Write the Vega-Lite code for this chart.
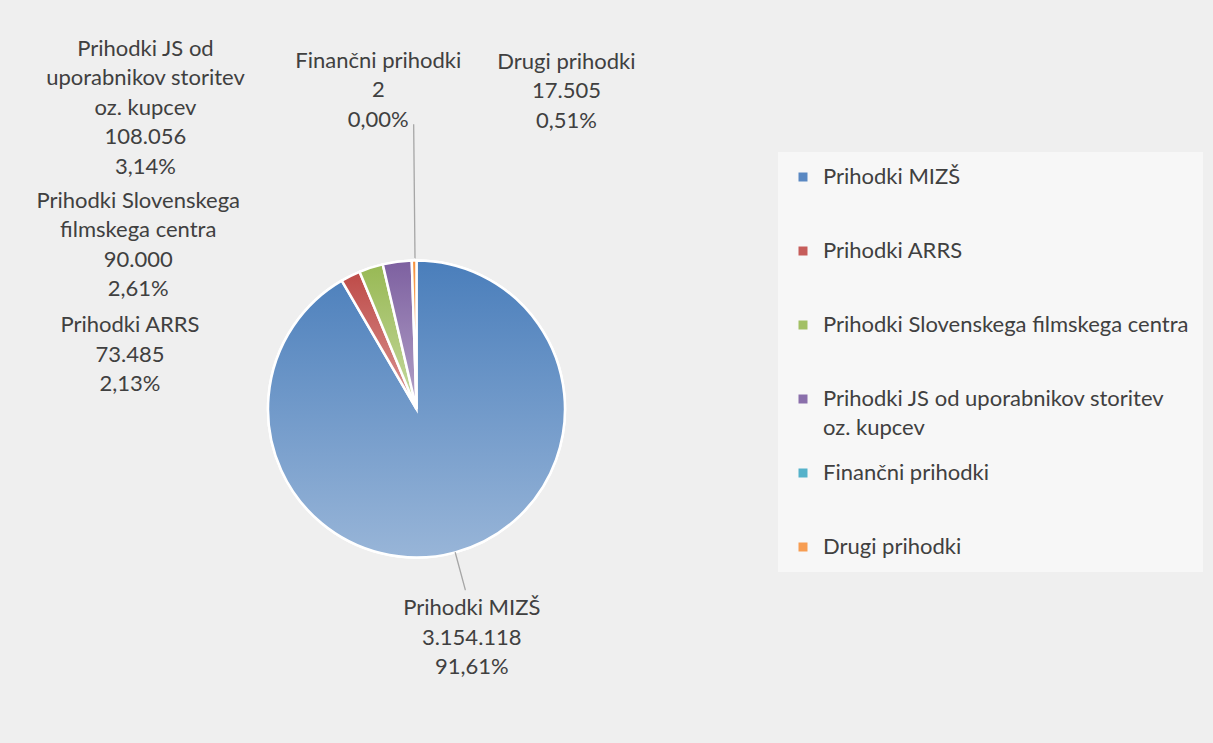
{
  "$schema": "https://vega.github.io/schema/vega-lite/v6.json",
  "width": 821,
  "height": 668,
  "autosize": {"type": "none"},
  "padding": {"left": 6, "top": 75, "right": 386, "bottom": 0},
  "background": "#efefef",
  "config": {
    "view": {"stroke": null},
    "style": {"guide-label": {"lineHeight": 29}},
    "locale": {"number": {"decimal": ",", "thousands": ".", "grouping": [3], "currency": ["", " €"]}}
  },
  "data": {
    "values": [
      {"i": 1, "cat": "Prihodki MIZŠ", "wrap": "Prihodki MIZŠ", "value": 3154118, "share": 91.61},
      {"i": 2, "cat": "Prihodki ARRS", "wrap": "Prihodki ARRS", "value": 73485, "share": 2.13},
      {"i": 3, "cat": "Prihodki Slovenskega filmskega centra", "wrap": "Prihodki Slovenskega|filmskega centra", "value": 90000, "share": 2.61},
      {"i": 4, "cat": "Prihodki JS od uporabnikov storitev oz. kupcev", "wrap": "Prihodki JS od|uporabnikov storitev|oz. kupcev", "value": 108056, "share": 3.14},
      {"i": 5, "cat": "Finančni prihodki", "wrap": "Finančni prihodki", "value": 2, "share": 0.0},
      {"i": 6, "cat": "Drugi prihodki", "wrap": "Drugi prihodki", "value": 17505, "share": 0.51}
    ]
  },
  "transform": [
    {"calculate": "split(datum.wrap + '|' + format(datum.value, ',.0f') + '|' + format(datum.share, '.2f') + '%', '|')", "as": "lbl"}
  ],
  "encoding": {
    "theta": {"field": "value", "type": "quantitative", "stack": true},
    "order": {"field": "i", "type": "quantitative"}
  },
  "layer": [
    {
      "mark": {"type": "arc", "outerRadius": 148.5, "stroke": "#ffffff", "strokeWidth": 2.5},
      "encoding": {
        "color": {
          "field": "cat",
          "type": "nominal",
          "scale": {
            "domain": ["Prihodki MIZŠ", "Prihodki ARRS", "Prihodki Slovenskega filmskega centra", "Prihodki JS od uporabnikov storitev oz. kupcev", "Finančni prihodki", "Drugi prihodki"],
            "range": ["#5a88c2", "#c65d5a", "#a2c064", "#8a6fab", "#55b2ca", "#f79d52"]
          },
          "legend": {
            "title": null,
            "orient": "none",
            "legendX": 772,
            "legendY": 77,
            "symbolType": "square",
            "symbolSize": 81,
            "symbolStrokeWidth": 0,
            "labelFont": "Lato",
            "labelFontSize": 22,
            "labelColor": "#404040",
            "labelLimit": 600,
            "labelOffset": 9,
            "rowPadding": 23,
            "gridAlign": "all",
            "padding": 14,
            "fillColor": "#f7f7f7",
            "labelExpr": "datum.label == 'Prihodki JS od uporabnikov storitev oz. kupcev' ? ['Prihodki JS od uporabnikov storitev', 'oz. kupcev'] : datum.label"
          }
        }
      }
    },
    {
      "mark": {"type": "arc", "outerRadius": 148.5, "stroke": "#ffffff", "strokeWidth": 2.5,
        "fill": {"gradient": "linear", "x1": 0, "y1": 0, "x2": 0, "y2": 1, "stops": [{"offset": 0, "color": "#4a7ebb"}, {"offset": 1, "color": "#98b5d8"}]}},
      "encoding": {
        "fillOpacity": {"condition": {"test": "datum.cat === 'Prihodki MIZŠ'", "value": 1}, "value": 0},
        "strokeOpacity": {"condition": {"test": "datum.cat === 'Prihodki MIZŠ'", "value": 1}, "value": 0}
      }
    },
    {
      "mark": {"type": "arc", "outerRadius": 148.5, "stroke": "#ffffff", "strokeWidth": 2.5,
        "fill": {"gradient": "linear", "x1": 0, "y1": 0, "x2": 0, "y2": 1, "stops": [{"offset": 0, "color": "#be4b48"}, {"offset": 1, "color": "#da9694"}]}},
      "encoding": {
        "fillOpacity": {"condition": {"test": "datum.cat === 'Prihodki ARRS'", "value": 1}, "value": 0},
        "strokeOpacity": {"condition": {"test": "datum.cat === 'Prihodki ARRS'", "value": 1}, "value": 0}
      }
    },
    {
      "mark": {"type": "arc", "outerRadius": 148.5, "stroke": "#ffffff", "strokeWidth": 2.5,
        "fill": {"gradient": "linear", "x1": 0, "y1": 0, "x2": 0, "y2": 1, "stops": [{"offset": 0, "color": "#98b954"}, {"offset": 1, "color": "#c6d9a0"}]}},
      "encoding": {
        "fillOpacity": {"condition": {"test": "datum.cat === 'Prihodki Slovenskega filmskega centra'", "value": 1}, "value": 0},
        "strokeOpacity": {"condition": {"test": "datum.cat === 'Prihodki Slovenskega filmskega centra'", "value": 1}, "value": 0}
      }
    },
    {
      "mark": {"type": "arc", "outerRadius": 148.5, "stroke": "#ffffff", "strokeWidth": 2.5,
        "fill": {"gradient": "linear", "x1": 0, "y1": 0, "x2": 0, "y2": 1, "stops": [{"offset": 0, "color": "#7d60a0"}, {"offset": 1, "color": "#b3a2c8"}]}},
      "encoding": {
        "fillOpacity": {"condition": {"test": "datum.cat === 'Prihodki JS od uporabnikov storitev oz. kupcev'", "value": 1}, "value": 0},
        "strokeOpacity": {"condition": {"test": "datum.cat === 'Prihodki JS od uporabnikov storitev oz. kupcev'", "value": 1}, "value": 0}
      }
    },
    {
      "mark": {"type": "arc", "outerRadius": 148.5, "stroke": "#ffffff", "strokeWidth": 2.5,
        "fill": {"gradient": "linear", "x1": 0, "y1": 0, "x2": 0, "y2": 1, "stops": [{"offset": 0, "color": "#f69240"}, {"offset": 1, "color": "#fabf8f"}]}},
      "encoding": {
        "fillOpacity": {"condition": {"test": "datum.cat === 'Drugi prihodki'", "value": 1}, "value": 0},
        "strokeOpacity": {"condition": {"test": "datum.cat === 'Drugi prihodki'", "value": 1}, "value": 0}
      }
    },
    {
      "mark": {"type": "arc", "outerRadius": 187, "innerRadius": 149, "thetaOffset": 2.877845, "fillOpacity": 0, "stroke": "#a6a6a6", "strokeWidth": 1.3},
      "encoding": {
        "theta": {"field": "share", "type": "quantitative", "stack": true},
        "strokeOpacity": {"condition": {"test": "datum.cat === 'Prihodki MIZŠ'", "value": 1}, "value": 0}
      }
    },
    {
      "mark": {"type": "arc", "outerRadius": 284, "innerRadius": 151, "thetaOffset": 0.022, "fillOpacity": 0, "stroke": "#a6a6a6", "strokeWidth": 1.3},
      "encoding": {"strokeOpacity": {"condition": {"test": "datum.cat === 'Finančni prihodki'", "value": 1}, "value": 0}}
    },
    {
      "mark": {"type": "text", "radius": 235, "dx": -6, "dy": -27.5, "font": "Lato", "fontSize": 22, "lineHeight": 29.5, "align": "center", "baseline": "middle", "color": "#404040"},
      "encoding": {"detail": {"field": "cat"}, "text": {"condition": {"test": "datum.cat === 'Prihodki MIZŠ'", "field": "lbl", "type": "nominal"}, "value": ""}}
    },
    {
      "mark": {"type": "text", "radius": 170, "dx": -211, "dy": 68.5, "font": "Lato", "fontSize": 22, "lineHeight": 29.5, "align": "center", "baseline": "middle", "color": "#404040"},
      "encoding": {"detail": {"field": "cat"}, "text": {"condition": {"test": "datum.cat === 'Prihodki ARRS'", "field": "lbl", "type": "nominal"}, "value": ""}}
    },
    {
      "mark": {"type": "text", "radius": 200, "dx": -217, "dy": -18, "font": "Lato", "fontSize": 22, "lineHeight": 29.5, "align": "center", "baseline": "middle", "color": "#404040"},
      "encoding": {"detail": {"field": "cat"}, "text": {"condition": {"test": "datum.cat === 'Prihodki Slovenskega filmskega centra'", "field": "lbl", "type": "nominal"}, "value": ""}}
    },
    {
      "mark": {"type": "text", "radius": 300, "dx": -232, "dy": -63, "font": "Lato", "fontSize": 22, "lineHeight": 29.5, "align": "center", "baseline": "middle", "color": "#404040"},
      "encoding": {"detail": {"field": "cat"}, "text": {"condition": {"test": "datum.cat === 'Prihodki JS od uporabnikov storitev oz. kupcev'", "field": "lbl", "type": "nominal"}, "value": ""}}
    },
    {
      "mark": {"type": "text", "radius": 320, "dx": -28, "dy": -28.5, "font": "Lato", "fontSize": 22, "lineHeight": 29.5, "align": "center", "baseline": "middle", "color": "#404040"},
      "encoding": {"detail": {"field": "cat"}, "text": {"condition": {"test": "datum.cat === 'Finančni prihodki'", "field": "lbl", "type": "nominal"}, "value": ""}}
    },
    {
      "mark": {"type": "text", "radius": 318, "dx": 155, "dy": -29.5, "font": "Lato", "fontSize": 22, "lineHeight": 29.5, "align": "center", "baseline": "middle", "color": "#404040"},
      "encoding": {"detail": {"field": "cat"}, "text": {"condition": {"test": "datum.cat === 'Drugi prihodki'", "field": "lbl", "type": "nominal"}, "value": ""}}
    }
  ]
}
